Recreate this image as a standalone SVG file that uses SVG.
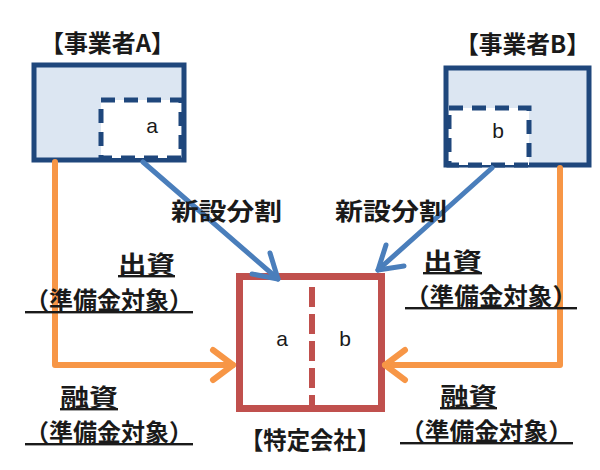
<svg xmlns="http://www.w3.org/2000/svg" width="600" height="470" viewBox="0 0 600 470">
<defs>
<style>
.t{font-family:"Noto Sans CJK JP","Noto Sans",sans-serif;font-weight:bold;font-size:24px;fill:#1a1a1a}
.l{font-family:"Liberation Sans","Noto Sans",sans-serif;font-size:21px;fill:#1a1a1a}
.u{text-decoration:underline}
.outer{fill:#dce6f2;stroke:#1f477c;stroke-width:5}
.inner{fill:#ffffff;stroke:#1f477c;stroke-width:5;stroke-dasharray:14 9}
.blue{fill:none;stroke:#4a7ebb;stroke-width:5;stroke-linecap:round;stroke-linejoin:round}
.orange{fill:none;stroke:#f79646;stroke-width:6;stroke-linecap:round;stroke-linejoin:round}
</style>
</defs>
<rect width="600" height="470" fill="#ffffff"/>

<g id="nodeA">
<text class="t" x="40" y="52" textLength="135" lengthAdjust="spacingAndGlyphs">【事業者A】</text>
<rect class="outer" x="34" y="65" width="150" height="95"/>
<rect class="inner" x="101" y="100" width="80" height="58"/>
<text class="l" x="152" y="133" text-anchor="middle">a</text>
</g>

<g id="nodeB">
<text class="t" x="455" y="53" textLength="135" lengthAdjust="spacingAndGlyphs">【事業者B】</text>
<rect class="outer" x="446" y="68" width="143" height="97"/>
<rect class="inner" x="449" y="108" width="80" height="57"/>
<text class="l" x="498" y="138" text-anchor="middle">b</text>
</g>

<g id="nodeC">
<rect x="239.5" y="276.5" width="142" height="132" fill="#ffffff" stroke="#c0504d" stroke-width="7"/>
<line x1="312" y1="287" x2="312" y2="405" stroke="#c0504d" stroke-width="6" stroke-dasharray="20 7"/>
<text class="l" x="282" y="346" text-anchor="middle">a</text>
<text class="l" x="345" y="346" text-anchor="middle">b</text>
<text class="t" x="240" y="449" textLength="140" lengthAdjust="spacingAndGlyphs">【特定会社】</text>
</g>

<g id="connectors">
<path class="blue" d="M143,162 L278,279"/>
<path class="blue" d="M252,274 L278,279 L270,253"/>
<path class="blue" d="M492,168 L378,270"/>
<path class="blue" d="M386,245 L378,270 L404,266"/>
<path class="orange" d="M55,162 L55,365 L233,365"/>
<path class="orange" d="M213,350 L233,365 L213,380"/>
<path class="orange" d="M560,168 L560,365 L385,365"/>
<path class="orange" d="M405,350 L385,365 L405,380"/>
</g>

<g id="labels">
<text class="t" x="171" y="220" textLength="111" lengthAdjust="spacingAndGlyphs">新設分割</text>
<text class="t" x="335" y="220" textLength="112" lengthAdjust="spacingAndGlyphs">新設分割</text>
<text class="t u" x="118" y="273" textLength="57" lengthAdjust="spacingAndGlyphs">出資</text>
<text class="t u" x="25" y="309" textLength="168" lengthAdjust="spacingAndGlyphs">（準備金対象）</text>
<text class="t u" x="60" y="406" textLength="58" lengthAdjust="spacingAndGlyphs">融資</text>
<text class="t u" x="25" y="441" textLength="168" lengthAdjust="spacingAndGlyphs">（準備金対象）</text>
<text class="t u" x="423" y="270" textLength="59" lengthAdjust="spacingAndGlyphs">出資</text>
<text class="t u" x="405" y="305" textLength="172" lengthAdjust="spacingAndGlyphs">（準備金対象）</text>
<text class="t u" x="440" y="405" textLength="57" lengthAdjust="spacingAndGlyphs">融資</text>
<text class="t u" x="400" y="440" textLength="173" lengthAdjust="spacingAndGlyphs">（準備金対象）</text>
</g>
</svg>
